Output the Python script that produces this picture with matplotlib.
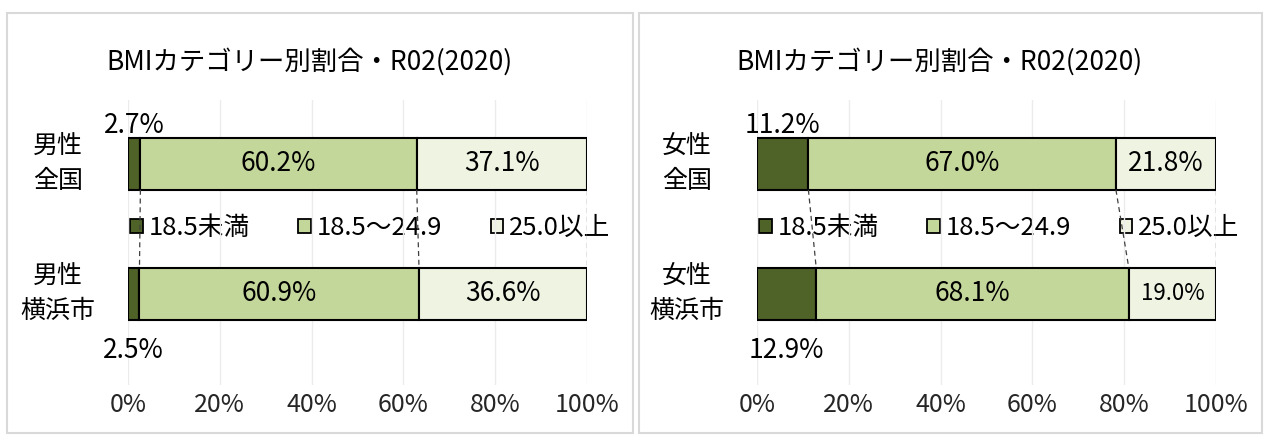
import matplotlib
matplotlib.use("Agg")
import matplotlib.pyplot as plt
from matplotlib.patches import Rectangle, Patch

plt.rcParams["font.family"] = ["Noto Sans CJK JP", "DejaVu Sans"]

TITLE = "BMIカテゴリー別割合・R02(2020)"
CATEGORIES = ["18.5未満", "18.5～24.9", "25.0以上"]
X_TICKS = [0, 20, 40, 60, 80, 100]

male_rows = ["男性\n全国", "男性\n横浜市"]
male_under = [2.7, 2.5]
male_normal = [60.2, 60.9]
male_over = [37.1, 36.6]

female_rows = ["女性\n全国", "女性\n横浜市"]
female_under = [11.2, 12.9]
female_normal = [67.0, 68.1]
female_over = [21.8, 19.0]

COLORS = ["#4f6228", "#c4d79b", "#eef3e2"]

W, H = 1266, 440
fig = plt.figure(figsize=(W / 100, H / 100), dpi=100)


def px(x0, y0, w, h):
    # pixel box (top-left origin) -> figure fraction rect
    return [x0 / W, 1 - (y0 + h) / H, w / W, h / H]


def draw_panel(left, rows, under, normal, over):
    ax = fig.add_axes(px(left, 100, 459, 285))
    ypos = [1, 0]
    segs = [under, normal, over]
    starts = [[0, 0], list(under), [u + n for u, n in zip(under, normal)]]
    for seg, st, col in zip(segs, starts, COLORS):
        ax.barh(ypos, seg, left=st, height=0.4, color=col,
                edgecolor="black", linewidth=1.5, zorder=3)

    # series lines between the two bars
    for k in range(3):
        top = sum(s[0] for s in segs[:k + 1])
        bot = sum(s[1] for s in segs[:k + 1])
        ax.plot([top, bot], [1 - 0.2, 0 + 0.2], color="#404040",
                linestyle=(0, (4, 3)), linewidth=0.9, zorder=5)

    # labels of the middle and right segments
    for i, y in enumerate(ypos):
        xm = starts[1][i] + normal[i] / 2
        ax.text(xm, y, f"{normal[i]:.1f}%", ha="center", va="center",
                fontsize=19, zorder=6)
        xo = starts[2][i] + over[i] / 2
        fs = 19 if over[i] >= 20 else 16
        ax.text(xo, y, f"{over[i]:.1f}%", ha="center", va="center",
                fontsize=fs, zorder=6)

    # small first segment: label above the top bar, below the bottom bar
    ax.text(under[0] / 2, 1.2 - 0.01, f"{under[0]:.1f}%", ha="center",
            va="bottom", fontsize=19, zorder=6)
    ax.text(under[1] / 2, -0.2 - 0.13, f"{under[1]:.1f}%", ha="center",
            va="top", fontsize=19, zorder=6)

    for lab, y in zip(rows, ypos):
        ax.text(-70 / 459, y, lab, transform=ax.get_yaxis_transform(),
                ha="center", va="center", fontsize=18, linespacing=1.4)

    ax.set_xlim(0, 100)
    ax.set_ylim(-0.7, 1.49)
    ax.set_xticks(X_TICKS)
    ax.set_xticklabels([f"{t}%" for t in X_TICKS], fontsize=18,
                       color="#262626")
    ax.tick_params(axis="x", length=0, pad=5)
    ax.set_yticks([])
    ax.grid(axis="x", color="#ececec", linewidth=1, zorder=0)
    for sp in ax.spines.values():
        sp.set_visible(False)

    handles = [Patch(facecolor=c, edgecolor="black", linewidth=1.3)
               for c in COLORS]
    leg = ax.legend(handles, CATEGORIES, ncol=3, frameon=False, fontsize=18.5,
                    loc="center left", bbox_to_anchor=(0.005, 0.55),
                    handlelength=0.5, handleheight=0.5, handletextpad=0.2,
                    columnspacing=1.9, borderaxespad=0, borderpad=0)
    leg.set_zorder(1)
    return ax


for x0, w in [(7, 626), (639, 623)]:
    fig.patches.append(Rectangle((x0 / W, 1 - 433 / H), w / W, 420 / H,
                                 transform=fig.transFigure, fill=False,
                                 edgecolor="#d9d9d9", linewidth=1.5))

draw_panel(128, male_rows, male_under, male_normal, male_over)
draw_panel(757, female_rows, female_under, female_normal, female_over)

fig.text(309 / W, 1 - 62 / H, TITLE, ha="center", va="center", fontsize=19)
fig.text(939 / W, 1 - 62 / H, TITLE, ha="center", va="center", fontsize=19)

fig.savefig("out.png", dpi=100, facecolor="white")
